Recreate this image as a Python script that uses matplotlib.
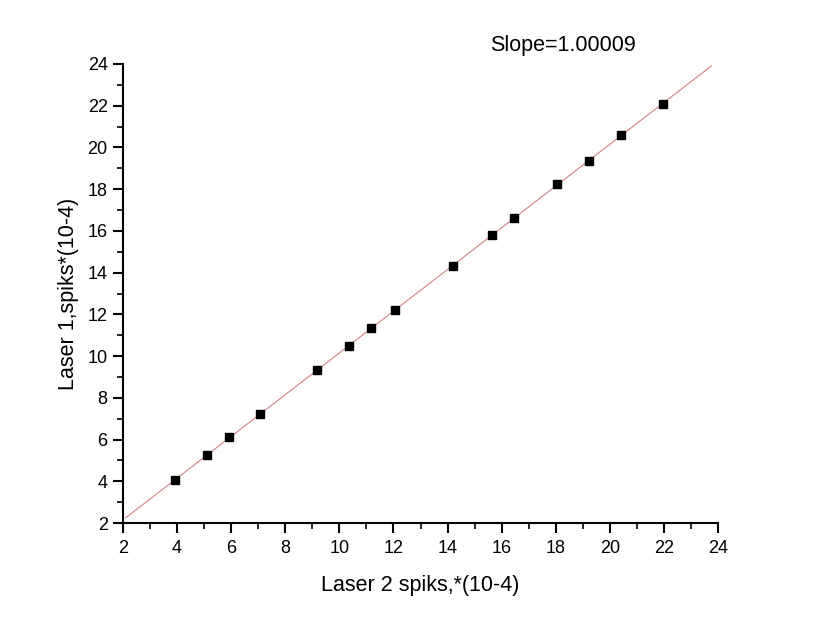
import matplotlib
matplotlib.use("Agg")
import matplotlib.pyplot as plt
from matplotlib.ticker import MultipleLocator

plt.rcParams['font.family'] = ['Liberation Sans', 'DejaVu Sans']

# Measured spike counts (units of 1e-4)
laser2 = [3.92, 5.10, 5.92, 7.06, 9.17, 10.35, 11.17, 12.06, 14.20,
          15.64, 16.45, 18.04, 19.23, 20.41, 21.96]
laser1 = [4.06, 5.26, 6.12, 7.22, 9.33, 10.49, 11.35, 12.21, 14.32,
          15.80, 16.62, 18.25, 19.35, 20.60, 22.09]

# Linear fit
slope = 1.00009
intercept = 0.15
fit_x = [2.1, 23.75]
fit_y = [slope * v + intercept for v in fit_x]

fig = plt.figure(figsize=(8.34, 6.28), dpi=100)
ax = fig.add_axes([123 / 834, 1 - 523 / 628, (718 - 123) / 834, (523 - 64) / 628])

ax.plot(fit_x, fit_y, color='#d08080', lw=0.8, zorder=2)
ax.plot(laser2, laser1, 's', color='black', markersize=6.3, zorder=3)

ax.set_xlim(2, 24)
ax.set_ylim(2, 24)
ax.xaxis.set_major_locator(MultipleLocator(2))
ax.xaxis.set_minor_locator(MultipleLocator(1))
ax.yaxis.set_major_locator(MultipleLocator(2))
ax.yaxis.set_minor_locator(MultipleLocator(1))

for side in ('top', 'right'):
    ax.spines[side].set_visible(False)
for side in ('left', 'bottom'):
    ax.spines[side].set_linewidth(1.5)

ax.tick_params(which='major', direction='out', length=7, width=1.5, labelsize=13)
ax.tick_params(axis='x', which='major', pad=5)
ax.tick_params(axis='y', which='major', pad=4)
ax.tick_params(which='minor', direction='out', length=4, width=1.2)

ax.set_xlabel('Laser 2 spiks,*(10-4)', fontsize=15.5, labelpad=13)
ax.set_ylabel('Laser 1,spiks*(10-4)', fontsize=15.5, labelpad=6)

fig.text(563 / 834, 1 - 45 / 628, 'Slope=1.00009', fontsize=15.5, ha='center', va='center')

fig.savefig('out.png', dpi=100)
